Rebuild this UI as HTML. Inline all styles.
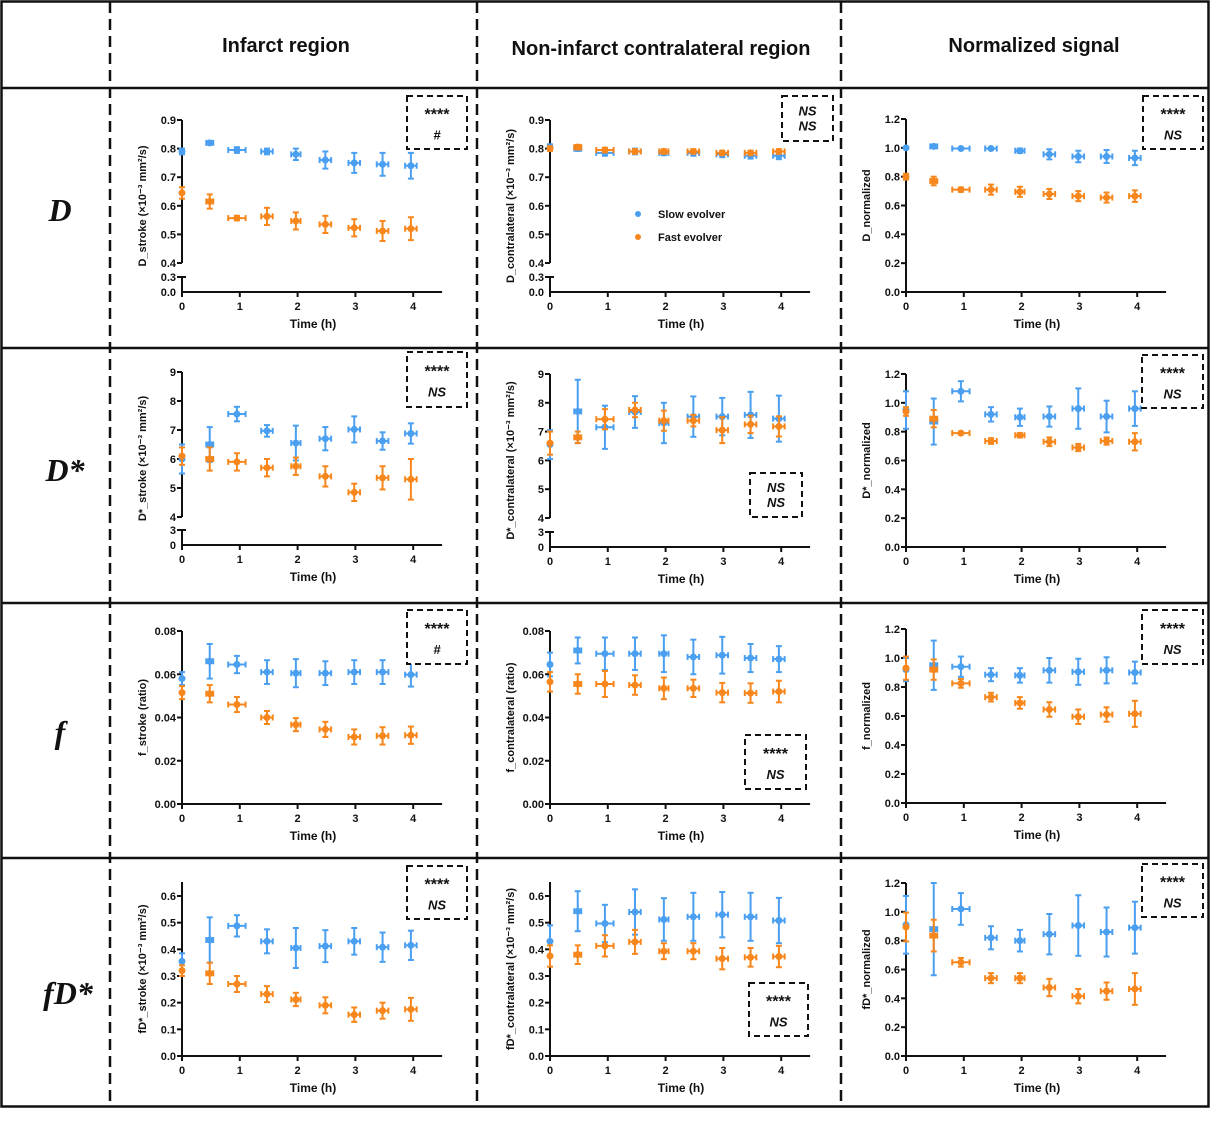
<!DOCTYPE html>
<html><head><meta charset="utf-8">
<style>
html,body{margin:0;padding:0;background:#fff;}
svg{display:block;}
text{font-family:"Liberation Sans",Arial,sans-serif;}
</style></head>
<body>
<svg id="fig" width="1213" height="1125" viewBox="0 0 1213 1125" xmlns="http://www.w3.org/2000/svg">
<rect x="0" y="0" width="1213" height="1125" fill="#fff"/>
<g stroke="#111" fill="none">
<rect x="1.5" y="1.5" width="1207" height="1105" stroke-width="2.5"/>
<line x1="1" y1="88" x2="1209" y2="88" stroke-width="2.5"/>
<line x1="1" y1="348" x2="1209" y2="348" stroke-width="2.5"/>
<line x1="1" y1="603" x2="1209" y2="603" stroke-width="2.5"/>
<line x1="1" y1="858" x2="1209" y2="858" stroke-width="2.5"/>
<line x1="110" y1="2" x2="110" y2="1106" stroke-width="2.5" stroke-dasharray="11,6"/>
<line x1="477" y1="2" x2="477" y2="1106" stroke-width="2.5" stroke-dasharray="11,6"/>
<line x1="841" y1="2" x2="841" y2="1106" stroke-width="2.5" stroke-dasharray="11,6"/>
</g>
<g font-weight="bold" font-size="20" text-anchor="middle" fill="#111">
<text x="286" y="52">Infarct region</text>
<text x="661" y="55">Non-infarct contralateral region</text>
<text x="1034" y="52">Normalized signal</text>
</g>
<g font-style="italic" font-weight="bold" font-size="32" text-anchor="middle" fill="#111">
<text x="60" y="221" style="font-family:'Liberation Serif',serif">D</text>
<text x="65" y="481" style="font-family:'Liberation Serif',serif">D*</text>
<text x="60" y="743" style="font-family:'Liberation Serif',serif">f</text>
<text x="68" y="1004" style="font-family:'Liberation Serif',serif">fD*</text>
</g>
<g id="panels"></g>
</svg>
<script>
// ---- data ----
const times = [0, 0.48, 0.95, 1.47, 1.97, 2.48, 2.98, 3.47, 3.96];
const timeErr = [0, 0.06, 0.15, 0.1, 0.08, 0.1, 0.1, 0.1, 0.1];
const xTicks = [0, 1, 2, 3, 4];

const dStrokeSlow = [0.79,0.82,0.795,0.79,0.78,0.76,0.75,0.745,0.74];
const dStrokeSlowErr = [0.01,0.005,0.01,0.01,0.02,0.03,0.035,0.04,0.045];
const dStrokeFast = [0.645,0.615,0.557,0.563,0.547,0.535,0.523,0.512,0.52];
const dStrokeFastErr = [0.02,0.025,0.008,0.03,0.03,0.03,0.03,0.035,0.04];
const dContraSlow = [0.805,0.80,0.785,0.79,0.785,0.785,0.78,0.775,0.775];
const dContraSlowErr = [0.01,0.008,0.01,0.01,0.008,0.01,0.01,0.01,0.012];
const dContraFast = [0.80,0.805,0.795,0.79,0.79,0.79,0.785,0.785,0.79];
const dContraFastErr = [0.008,0.008,0.008,0.008,0.008,0.008,0.008,0.008,0.008];
const dNormSlow = [1.0,1.01,0.995,0.995,0.98,0.955,0.94,0.94,0.93];
const dNormSlowErr = [0.005,0.008,0.005,0.008,0.015,0.035,0.04,0.045,0.05];
const dNormFast = [0.80,0.77,0.71,0.71,0.695,0.68,0.665,0.655,0.665];
const dNormFastErr = [0.02,0.03,0.015,0.035,0.035,0.035,0.035,0.035,0.04];

const dsStrokeSlow = [6.0,6.5,7.55,6.97,6.55,6.7,7.02,6.62,6.88];
const dsStrokeSlowErr = [0.5,0.6,0.25,0.2,0.6,0.4,0.45,0.3,0.35];
const dsStrokeFast = [6.1,6.0,5.9,5.7,5.75,5.4,4.85,5.35,5.3];
const dsStrokeFastErr = [0.3,0.4,0.3,0.3,0.3,0.35,0.3,0.4,0.7];
const dsContraSlow = [6.55,7.7,7.15,7.68,7.3,7.52,7.52,7.58,7.45];
const dsContraSlowErr = [0.5,1.1,0.75,0.55,0.7,0.7,0.65,0.8,0.8];
const dsContraFast = [6.6,6.8,7.43,7.75,7.38,7.38,7.05,7.25,7.18];
const dsContraFastErr = [0.4,0.2,0.35,0.25,0.35,0.2,0.45,0.3,0.35];
const dsNormSlow = [0.95,0.87,1.08,0.92,0.90,0.905,0.96,0.905,0.96];
const dsNormSlowErr = [0.13,0.16,0.07,0.05,0.06,0.07,0.14,0.11,0.12];
const dsNormFast = [0.94,0.89,0.79,0.735,0.775,0.73,0.69,0.735,0.73];
const dsNormFastErr = [0.03,0.06,0.005,0.02,0.015,0.03,0.025,0.025,0.06];

const fStrokeSlow = [0.058,0.066,0.0645,0.061,0.0605,0.0605,0.061,0.061,0.0598];
const fStrokeSlowErr = [0.003,0.008,0.004,0.0055,0.0065,0.0055,0.0055,0.0055,0.0055];
const fStrokeFast = [0.0515,0.051,0.046,0.040,0.0367,0.0345,0.031,0.0315,0.0318];
const fStrokeFastErr = [0.003,0.004,0.0035,0.003,0.003,0.0035,0.0035,0.004,0.004];
const fContraSlow = [0.0645,0.071,0.0695,0.0695,0.0695,0.068,0.0688,0.0675,0.067];
const fContraSlowErr = [0.0055,0.006,0.0075,0.0075,0.0085,0.008,0.0085,0.0065,0.006];
const fContraFast = [0.0565,0.0555,0.0555,0.055,0.0535,0.0535,0.0515,0.0513,0.052];
const fContraFastErr = [0.0045,0.0045,0.006,0.0045,0.005,0.004,0.0045,0.0045,0.005];
const fNormSlow = [0.92,0.95,0.94,0.885,0.88,0.915,0.905,0.915,0.90];
const fNormSlowErr = [0.08,0.17,0.07,0.045,0.05,0.085,0.09,0.09,0.075];
const fNormFast = [0.93,0.92,0.825,0.73,0.69,0.645,0.595,0.61,0.615];
const fNormFastErr = [0.08,0.07,0.03,0.03,0.04,0.05,0.05,0.05,0.09];

const fdStrokeSlow = [0.355,0.435,0.488,0.43,0.405,0.412,0.43,0.408,0.415];
const fdStrokeSlowErr = [0.03,0.085,0.04,0.045,0.075,0.06,0.05,0.055,0.055];
const fdStrokeFast = [0.32,0.31,0.27,0.232,0.212,0.19,0.155,0.17,0.175];
const fdStrokeFastErr = [0.02,0.04,0.03,0.03,0.025,0.03,0.027,0.03,0.043];
const fdContraSlow = [0.43,0.543,0.497,0.54,0.512,0.522,0.53,0.522,0.508];
const fdContraSlowErr = [0.06,0.075,0.07,0.085,0.08,0.09,0.085,0.09,0.085];
const fdContraFast = [0.375,0.38,0.413,0.428,0.393,0.393,0.365,0.37,0.373];
const fdContraFastErr = [0.04,0.035,0.04,0.045,0.03,0.03,0.04,0.035,0.04];
const fdNormSlow = [0.91,0.88,1.02,0.82,0.80,0.845,0.905,0.86,0.89];
const fdNormSlowErr = [0.2,0.32,0.11,0.08,0.075,0.14,0.21,0.17,0.18];
const fdNormFast = [0.895,0.835,0.65,0.54,0.54,0.475,0.415,0.45,0.465];
const fdNormFastErr = [0.1,0.11,0.03,0.035,0.035,0.06,0.05,0.06,0.11];

const tickD = ["0.4","0.5","0.6","0.7","0.8","0.9"];
const tickDs = ["4","5","6","7","8","9"];
const tickNorm = ["0.0","0.2","0.4","0.6","0.8","1.0","1.2"];
const tickF = ["0.00","0.02","0.04","0.06","0.08"];
const tickFd = ["0.0","0.1","0.2","0.3","0.4","0.5","0.6"];

const BLUE = "#4a9ff0", ORANGE = "#f7871c";
const NS = "http://www.w3.org/2000/svg";
const root = document.getElementById('panels');
function mk(tag, attrs, parent, txt) {
  const e = document.createElementNS(NS, tag);
  for (const k in attrs) e.setAttribute(k, attrs[k]);
  if (txt !== undefined) e.textContent = txt;
  (parent || root).appendChild(e);
  return e;
}

const panels = [
 {name:'d-infarct', x0:182, y0:292, up:[0.4,263,0.9,120], brk:{lo:[0.3,277], labels:["0.0","0.3"]}, ticks:tickD, title:'D_stroke (×10⁻³ mm²/s)', slow:dStrokeSlow, se:dStrokeSlowErr, fast:dStrokeFast, fe:dStrokeFastErr, box:[407,96,60,53,"****","#"], top:120},
 {name:'d-contralateral', x0:550, y0:292, up:[0.4,263,0.9,120], brk:{lo:[0.3,277], labels:["0.0","0.3"]}, ticks:tickD, title:'D_contralateral (×10⁻³ mm²/s)', slow:dContraSlow, se:dContraSlowErr, fast:dContraFast, fe:dContraFastErr, box:[782,96,51,45,"NS","NS",true], legend:true, top:120},
 {name:'d-normalized', x0:906, y0:292, up:[0,292,1.2,119], ticks:tickNorm, title:'D_normalized', slow:dNormSlow, se:dNormSlowErr, fast:dNormFast, fe:dNormFastErr, box:[1143,96,60,53,"****","NS"], top:119},
 {name:'dstar-infarct', x0:182, y0:545, up:[4,517,9,372], brk:{lo:[3,530], labels:["0","3"]}, ticks:tickDs, title:'D*_stroke (×10⁻³ mm²/s)', slow:dsStrokeSlow, se:dsStrokeSlowErr, fast:dsStrokeFast, fe:dsStrokeFastErr, box:[407,352,60,55,"****","NS"], top:372},
 {name:'dstar-contralateral', x0:550, y0:547, up:[4,518,9,374], brk:{lo:[3,532], labels:["0","3"]}, ticks:tickDs, title:'D*_contralateral (×10⁻³ mm²/s)', slow:dsContraSlow, se:dsContraSlowErr, fast:dsContraFast, fe:dsContraFastErr, box:[750,473,52,44,"NS","NS",true], top:374},
 {name:'dstar-normalized', x0:906, y0:547, up:[0,547,1.2,374], ticks:tickNorm, title:'D*_normalized', slow:dsNormSlow, se:dsNormSlowErr, fast:dsNormFast, fe:dsNormFastErr, box:[1142,355,61,53,"****","NS"], top:374},
 {name:'f-infarct', x0:182, y0:804, up:[0,804,0.08,631], ticks:tickF, title:'f_stroke (ratio)', slow:fStrokeSlow, se:fStrokeSlowErr, fast:fStrokeFast, fe:fStrokeFastErr, box:[407,610,60,54,"****","#"], top:631},
 {name:'f-contralateral', x0:550, y0:804, up:[0,804,0.08,631], ticks:tickF, title:'f_contralateral (ratio)', slow:fContraSlow, se:fContraSlowErr, fast:fContraFast, fe:fContraFastErr, box:[745,735,61,54,"****","NS"], top:631},
 {name:'f-normalized', x0:906, y0:803, up:[0,803,1.2,629], ticks:tickNorm, title:'f_normalized', slow:fNormSlow, se:fNormSlowErr, fast:fNormFast, fe:fNormFastErr, box:[1142,610,61,54,"****","NS"], top:629},
 {name:'fdstar-infarct', x0:182, y0:1056, up:[0,1056,0.6,896], ticks:tickFd, title:'fD*_stroke (×10⁻³ mm²/s)', slow:fdStrokeSlow, se:fdStrokeSlowErr, fast:fdStrokeFast, fe:fdStrokeFastErr, box:[407,866,60,53,"****","NS"], top:882},
 {name:'fdstar-contralateral', x0:550, y0:1056, up:[0,1056,0.6,896], ticks:tickFd, title:'fD*_contralateral (×10⁻³ mm²/s)', slow:fdContraSlow, se:fdContraSlowErr, fast:fdContraFast, fe:fdContraFastErr, box:[749,983,59,53,"****","NS"], top:882},
 {name:'fdstar-normalized', x0:906, y0:1056, up:[0,1056,1.2,883], ticks:tickNorm, title:'fD*_normalized', slow:fdNormSlow, se:fdNormSlowErr, fast:fdNormFast, fe:fdNormFastErr, box:[1142,864,61,53,"****","NS"], top:883}
];
const PXH = 57.8;

panels.forEach(p => {
  const g = mk('g', {});
  
  
  const xs = t => p.x0 + t * PXH;
  const [v0, py0, v1, py1] = p.up;
  const ys = v => py0 + (v - v0) * (py1 - py0) / (v1 - v0);
  const ax = mk('g', {stroke:'#111','stroke-width':2,fill:'none'}, g);
  
  
  const xEnd = p.x0 + 4.5 * PXH;
  mk('line', {x1:p.x0, y1:p.y0, x2:xEnd, y2:p.y0}, ax);
  const tl = mk('g', {'font-size':11,'font-weight':'bold',fill:'#111','text-anchor':'end'}, g);
  
  
  if (p.brk) {
    mk('line', {x1:p.x0, y1:ys(+p.ticks[p.ticks.length-1]), x2:p.x0, y2:py0}, ax);
    mk('line', {x1:p.x0, y1:p.brk.lo[1], x2:p.x0, y2:p.y0}, ax);
    mk('line', {x1:p.x0-5, y1:p.brk.lo[1], x2:p.x0+4, y2:p.brk.lo[1]}, ax);
    mk('text', {x:p.x0-6, y:p.y0+4}, tl, p.brk.labels[0]);
    mk('text', {x:p.x0-6, y:p.brk.lo[1]+4}, tl, p.brk.labels[1]);
  } else {
    mk('line', {x1:p.x0, y1:p.top, x2:p.x0, y2:p.y0}, ax);
  }
  p.ticks.forEach(t => {
    const y = ys(+t);
    mk('line', {x1:p.x0-5, y1:y, x2:p.x0, y2:y}, ax);
    mk('text', {x:p.x0-6, y:y+4}, tl, t);
  });
  const xl = mk('g', {'font-size':11,'font-weight':'bold',fill:'#111','text-anchor':'middle'}, g);
  
  
  xTicks.forEach(t => {
    mk('line', {x1:xs(t), y1:p.y0, x2:xs(t), y2:p.y0+5}, ax);
    mk('text', {x:xs(t), y:p.y0+18}, xl, String(t));
  });
  const xt = mk('text', {x:p.x0+131, y:p.y0+36, 'font-size':12,'font-weight':'bold','text-anchor':'middle',fill:'#111'}, g, 'Time (h)');
  
  
  const cy = (p.top + p.y0) / 2;
  const yt = mk('text', {x:0, y:0, 'font-size':11,'font-weight':'bold','text-anchor':'middle',fill:'#111', transform:`translate(${p.x0-36},${cy}) rotate(-90)`}, g);
  
  
  yt.textContent = p.title;
  [[p.slow, p.se, BLUE, 'slow'], [p.fast, p.fe, ORANGE, 'fast']].forEach(([vals, errs, col, nm]) => {
    const sg = mk('g', {stroke:col, fill:col, 'stroke-width':2}, g);
    
    
    vals.forEach((v, i) => {
      const x = xs(times[i]), y = ys(v);
      const yt1 = ys(v + errs[i]), yb = ys(v - errs[i]);
      mk('line', {x1:x, y1:yt1, x2:x, y2:yb}, sg);
      mk('line', {x1:x-3, y1:yt1, x2:x+3, y2:yt1}, sg);
      mk('line', {x1:x-3, y1:yb, x2:x+3, y2:yb}, sg);
      if (timeErr[i] > 0) {
        const xa = xs(times[i]-timeErr[i]), xb = xs(times[i]+timeErr[i]);
        mk('line', {x1:xa, y1:y, x2:xb, y2:y}, sg);
        mk('line', {x1:xa, y1:y-3, x2:xa, y2:y+3}, sg);
        mk('line', {x1:xb, y1:y-3, x2:xb, y2:y+3}, sg);
      }
      const m = mk('circle', {cx:x, cy:y, r:3.5, stroke:'none'}, sg);
      
      
    });
  });
  const [bx, by, bw, bh, l1, l2, bothItalic] = p.box;
  const ag = mk('g', {}, g);
  
  
  mk('rect', {x:bx, y:by, width:bw, height:bh, fill:'#fff', stroke:'#111','stroke-width':2,'stroke-dasharray':'6,4'}, ag);
  const cx = bx + bw/2;
  if (bothItalic) {
    mk('text', {x:cx, y:by+bh/2-3, 'font-size':13, 'font-weight':'bold','font-style':'italic','text-anchor':'middle',fill:'#111'}, ag, l1);
    mk('text', {x:cx, y:by+bh/2+12, 'font-size':13, 'font-weight':'bold','font-style':'italic','text-anchor':'middle',fill:'#111'}, ag, l2);
  } else {
    mk('text', {x:cx, y:by+bh/2-3, 'font-size':16, 'font-weight':'bold','text-anchor':'middle',fill:'#111'}, ag, l1);
    mk('text', {x:cx, y:by+bh/2+17, 'font-size':13, 'font-weight':'bold','font-style':'italic','text-anchor':'middle',fill:'#111'}, ag, l2);
  }
  if (p.legend) {
    const lg = mk('g', {'font-size':11,'font-weight':'bold',fill:'#111'}, g);
    
    
    mk('circle', {cx:638, cy:214, r:3, fill:BLUE}, lg);
    mk('text', {x:658, y:218}, lg, 'Slow evolver');
    mk('circle', {cx:638, cy:237, r:3, fill:ORANGE}, lg);
    mk('text', {x:658, y:241}, lg, 'Fast evolver');
  }
});
</script>
</body></html>
